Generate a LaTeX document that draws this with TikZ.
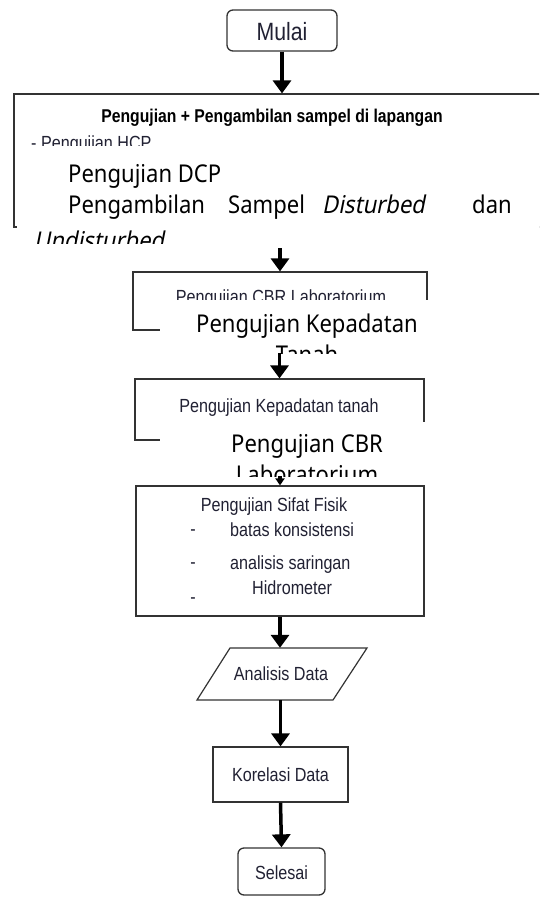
\documentclass[tikz,border=0pt]{standalone}
\usepackage{fontspec}
\usetikzlibrary{arrows.meta}
\newfontfamily\nf[FakeStretch=0.85]{Liberation Sans}
\newfontfamily\bigf[FakeStretch=0.9]{Noto Sans}
\newfontfamily\bigit[FakeStretch=0.9,FakeSlant=0.2]{Noto Sans}
\definecolor{ink}{rgb}{0.13,0.13,0.2}
\definecolor{edge}{rgb}{0.2,0.2,0.2}
\begin{document}
\begin{tikzpicture}[x=1pt,y=-1pt,
  boxs/.style={draw=edge,line width=1.2pt,inner sep=0pt,rectangle},
  roundbox/.style={draw=edge,line width=1.3pt,rounded corners=6pt,inner sep=0pt},
  cover/.style={fill=white,inner sep=0pt,rectangle},
  small/.style={font=\nf\fontsize{19}{22}\selectfont,text=ink,inner sep=0pt},
  big/.style={font=\bigf\fontsize{24.5}{29}\selectfont,text=black,inner sep=0pt},
  bigi/.style={font=\bigit\fontsize{24.5}{29}\selectfont,text=black,inner sep=0pt},
  flow/.style={line width=3.5pt,-{Triangle[width=18pt,length=13pt]}},
  flowsm/.style={line width=3.5pt,-{Triangle[width=9pt,length=7pt]}}
]
\clip (0,0) rectangle (539,900);
\fill[white] (0,0) rectangle (539,900);

% start
\node[roundbox,minimum width=110pt,minimum height=41pt] (mulai) at (282,30.5) {};
\node[font=\nf\fontsize{25}{29}\selectfont,text=ink] (mulait) at (282,32) {Mulai};

% box 1
\node[boxs,minimum width=561pt,minimum height=133pt] (b1) at (294.5,160.5) {};
\node[font=\nf\bfseries\fontsize{18.5}{22}\selectfont,text=black,inner sep=0pt] (t1) at (272,118) {Pengujian + Pengambilan sampel di lapangan};
\node[small,anchor=base west] (hcp) at (31,149) {- Pengujian HCP};
\node[cover,minimum width=583pt,minimum height=97pt] (ov1) at (308.5,194.5) {};
\begin{scope}
\clip (ov1.north west) rectangle (ov1.south east);
\node[big,anchor=base west] (dcp) at (68,182) {Pengujian DCP};
\node[big,anchor=base west] (w1) at (68,213) {Pengambilan};
\node[big,anchor=base west] (w2) at (228,213) {Sampel};
\node[bigi,anchor=base west] (w3) at (322,213) {Disturbed};
\node[big,anchor=base west] (w4) at (472,213) {dan};
\node[bigi,anchor=base west] (w5) at (34,249) {Undisturbed};
\end{scope}

% box 2
\node[boxs,minimum width=294pt,minimum height=58pt] (b2) at (280,301) {};
\node[small,anchor=base] (cbr) at (281,303) {Pengujian CBR Laboratorium};
\node[cover,minimum width=272pt,minimum height=53pt] (ov2) at (296,326.5) {};
\begin{scope}
\clip (ov2.north west) rectangle (ov2.south east);
\node[big,anchor=base] (kp1) at (307,332) {Pengujian Kepadatan};
\node[big,anchor=base] (kp2) at (307,363) {Tanah};
\end{scope}

% box 3
\node[boxs,minimum width=289pt,minimum height=61pt] (b3) at (279.5,409.5) {};
\node[small] (kpt) at (279,408) {Pengujian Kepadatan tanah};
\node[cover,minimum width=272pt,minimum height=54pt] (ov3) at (296,449) {};
\begin{scope}
\clip (ov3.north west) rectangle (ov3.south east);
\node[big,anchor=base] (cb1) at (307,452) {Pengujian CBR};
\node[big,anchor=base] (cb2) at (307,483) {Laboratorium};
\end{scope}

% box 4
\node[boxs,minimum width=288pt,minimum height=130pt] (b4) at (280,551) {};
\node[small] (sf) at (274,507) {Pengujian Sifat Fisik};
\node[small] (d1) at (193,533) {-};
\node[small,anchor=west] (l1) at (230,530) {batas konsistensi};
\node[small] (d2) at (193,566) {-};
\node[small,anchor=west] (l2) at (230,565) {analisis saringan};
\node[small,anchor=west] (l3) at (252,588) {Hidrometer};
\node[small] (d3) at (193,601) {-};

% analisis data (parallelogram)
\draw[edge,line width=1.2pt] (230,648) -- (367,648) -- (333,700) -- (197,700) -- cycle;
\node[small,minimum width=104pt,minimum height=52pt] (anl) at (281,674) {Analisis Data};

% korelasi
\node[boxs,minimum width=135pt,minimum height=55pt,small,draw=edge] (kor) at (280.5,774.5) {Korelasi Data};

% selesai
\node[roundbox,minimum width=87pt,minimum height=47pt] (sel) at (281.5,871.5) {};
\node[small] (selt) at (281.5,873) {Selesai};

% connectors
\draw[flow] (mulai.south) -- (mulai.south |- b1.north);
\draw[flow,shorten <=5pt] (ov1.south -| b2.north) -- (b2.north);
\draw[flow] (ov2.south -| b3.north) -- (b3.north);
\draw[flowsm] (ov3.south -| b4.north) -- (b4.north);
\draw[flow] (b4.south) -- (b4.south |- anl.north);
\draw[flow] (anl.south -| kor.north) -- (kor.north);
\draw[flow] (kor.south) -- (sel.north);
\end{tikzpicture}
\end{document}
